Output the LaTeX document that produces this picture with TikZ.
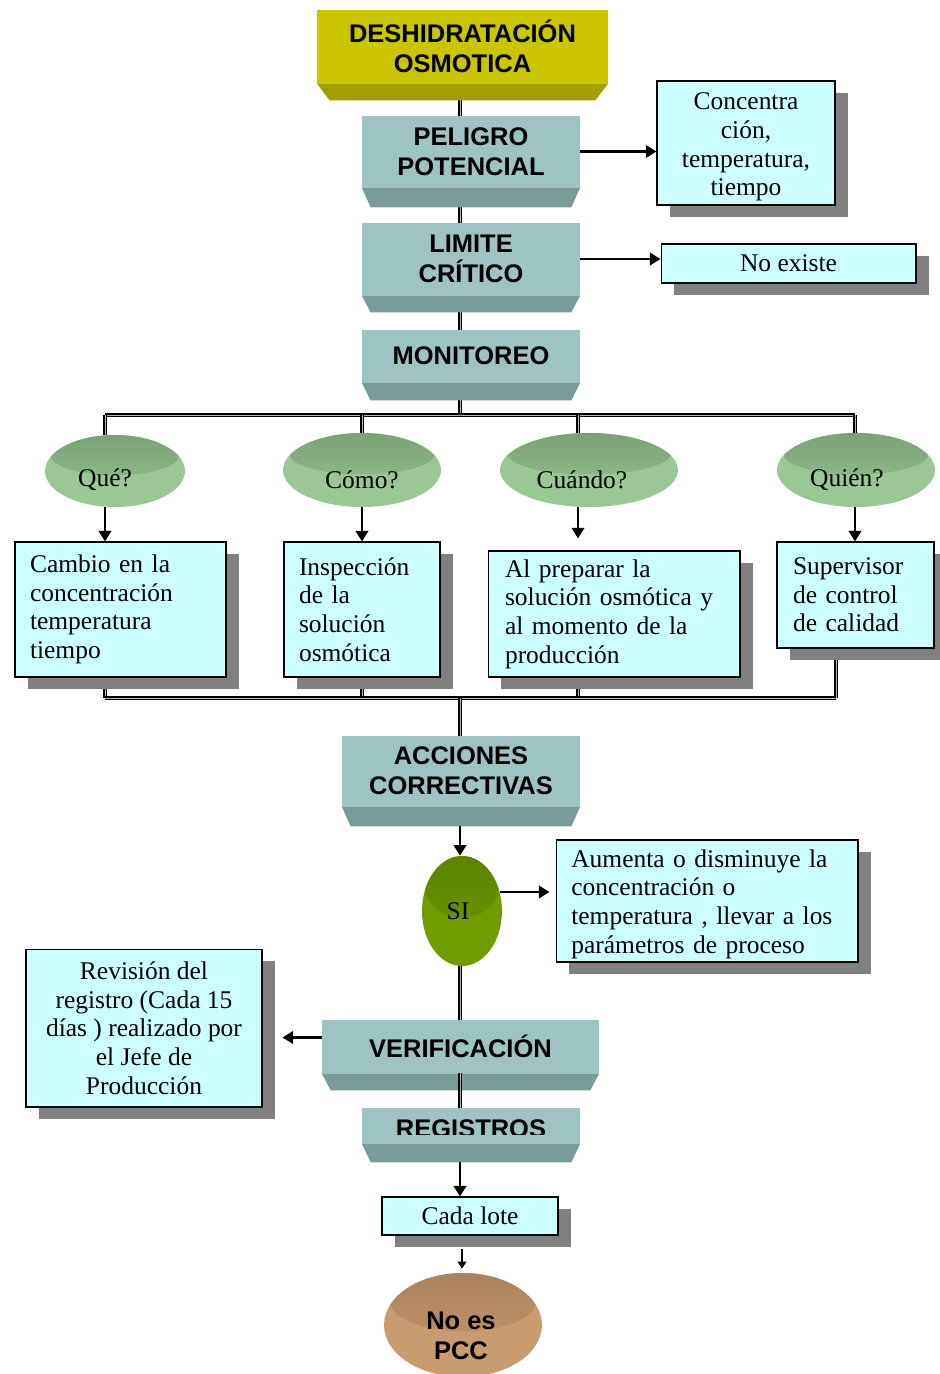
\documentclass[tikz,border=0pt]{standalone}
\usepackage{fontspec}
\setmainfont{Liberation Serif}
\newfontfamily\headfont{Liberation Sans}
\usetikzlibrary{arrows.meta,calc,shapes.geometric,shadows,backgrounds}

\definecolor{olivef}{RGB}{202,197,0}
\definecolor{oliveb}{RGB}{164,159,0}
\definecolor{tealf}{RGB}{157,196,195}
\definecolor{tealb}{RGB}{122,156,153}
\definecolor{cyanbox}{RGB}{204,255,255}
\definecolor{shadowgray}{RGB}{128,128,128}
\definecolor{discl}{RGB}{155,198,150}
\definecolor{discd}{RGB}{122,162,117}
\definecolor{sil}{RGB}{112,156,0}
\definecolor{sid}{RGB}{92,130,0}
\definecolor{pccl}{RGB}{201,156,112}
\definecolor{pccd}{RGB}{172,130,90}

\newcommand\hdsize{\headfont\bfseries\fontsize{14.5}{17}\selectfont}
\newcommand\bdsize{\fontsize{14.5}{16.3}\selectfont}

% slanted lower face under a block: node, depth (px), inset (px), colour
\newcommand\bevelfoot[4]{%
  \fill[#4] (#1.south west) -- (#1.south east) -- ($(#1.south east)+(-#3,#2)$)
    -- ($(#1.south west)+(#3,#2)$) -- cycle;
  \coordinate (#1-b) at ($(#1.south)+(0,#2)$);}

\begin{document}
\begin{tikzpicture}[x=0.02cm, y=-0.02cm,
  face/.style={fill=tealf, inner sep=0pt, align=center, font=\hdsize},
  info/.style={draw=black, line width=0.6pt, fill=cyanbox, inner ysep=0pt,
    general shadow={fill=shadowgray, shadow xshift=0.26cm, shadow yshift=-0.24cm},
    font=\bdsize},
  disc/.style 2 args={ellipse, inner sep=0pt, fill=#1,
    path picture={\shade[top color=#2, bottom color=#1]
      let \p1=(path picture bounding box.south west),
          \p2=(path picture bounding box.north east) in
      ({(\x1+\x2)/2},{\y2-0.28*(\y2-\y1)}) ellipse
      [x radius={0.46*(\x2-\x1)}, y radius={0.28*(\y2-\y1)}];}},
  link/.style={draw=black, line width=0.95pt, double=black!30, double distance=0.5pt},
  arr/.style={draw=black, line width=1.6pt, -{Triangle[length=6pt,width=7pt]}},
  thinarr/.style={draw=black, line width=0.8pt, -{Triangle[length=4pt,width=5pt]}},
  lbl/.style={font=\bdsize, inner sep=0pt}
]
\useasboundingbox (0,0) rectangle (940,1374);

% ---- process blocks ----
\node[face, fill=olivef, minimum width=5.82cm, minimum height=1.46cm] (des) at (462.5,46.5) {DESHIDRATACIÓN\\OSMOTICA};
\bevelfoot{des}{17}{13}{oliveb}
\node[face, minimum width=4.36cm, minimum height=1.42cm] (pel) at (471,151.5) {PELIGRO\\POTENCIAL};
\bevelfoot{pel}{20}{9}{tealb}
\node[face, minimum width=4.36cm, minimum height=1.44cm] (lim) at (471,259) {LIMITE\\CRÍTICO};
\bevelfoot{lim}{17}{9}{tealb}
\node[face, minimum width=4.36cm, minimum height=1.04cm] (mon) at (471,356) {MONITOREO};
\bevelfoot{mon}{18}{9}{tealb}
\node[face, minimum width=4.76cm, minimum height=1.4cm] (acc) at (461,771) {ACCIONES\\CORRECTIVAS};
\bevelfoot{acc}{20}{9}{tealb}
\node[face, minimum width=5.54cm, minimum height=1.06cm] (ver) at (460.5,1046.5) {VERIFICACIÓN};
\bevelfoot{ver}{17}{9}{tealb}
\node[face, minimum width=4.36cm, minimum height=0.7cm] (reg) at (471,1125.5) {};
\begin{scope}
  \clip (362,1100) rectangle (580,1134);
  \node[font=\hdsize, inner sep=0pt] (regt) at (471,1129) {REGISTROS};
\end{scope}
\bevelfoot{reg}{19}{9}{tealb}

% ---- information boxes ----
\node[info, minimum width=3.56cm, minimum height=2.48cm] (conc) at (746,143) {};
\begin{scope}
  \clip (conc.south west) rectangle (conc.north east);
  \node[lbl, align=center] (conct) at (746,147) {Concentra\\ción,\\temperatura,\\tiempo};
\end{scope}
\node[info, minimum width=5.1cm, minimum height=0.78cm] (noex) at (788.5,263.5) {No existe};

\node[info, minimum width=4.22cm, minimum height=2.7cm, text width=3.62cm, inner xsep=0.3cm, align=left]
  (cambio) at (120.5,609.5) {Cambio en la\\concentración\\temperatura\\tiempo};
\node[info, minimum width=3.12cm, minimum height=2.7cm, text width=2.52cm, inner xsep=0.3cm, align=left]
  (insp) at (362,609.5) {Inspección\\de la\\solución\\osmótica};
\node[info, minimum width=5.04cm, minimum height=2.52cm, text width=4.36cm, inner xsep=0.34cm, align=left]
  (prep) at (614,614) {Al preparar la\\solución osmótica y\\al momento de la\\producción};
\node[info, minimum width=3.14cm, minimum height=2.12cm, text width=2.5cm, inner xsep=0.32cm, align=left]
  (sup) at (855.5,595) {Supervisor\\de control\\de calidad};

\node[info, minimum width=6.04cm, minimum height=2.44cm] (aum) at (707,901) {};
\begin{scope}
  \clip (aum.south west) rectangle (aum.north east);
  \node[lbl, align=left, text width=5.44cm, anchor=west] (aumt) at (571,904)
    {Aumenta o disminuye la\\concentración o\\temperatura , llevar a los\\parámetros de proceso};
\end{scope}
\node[info, minimum width=4.72cm, minimum height=3.16cm, align=center] (rev) at (144,1028)
  {Revisión del\\registro (Cada 15\\días ) realizado por\\el Jefe de\\Producción};
\node[info, minimum width=3.52cm, minimum height=0.76cm] (lote) at (470,1216) {Cada lote};

% ---- question discs ----
\node[disc={discl}{discd}, minimum width=2.8cm, minimum height=1.44cm] (que) at (115,471) {};
\node[lbl] (quet) at (105,480) {Qué?};
\node[disc={discl}{discd}, minimum width=3.16cm, minimum height=1.48cm] (como) at (362,470) {};
\node[lbl] (comot) at (362,480) {Cómo?};
\node[disc={discl}{discd}, minimum width=3.56cm, minimum height=1.48cm] (cuando) at (589,470) {};
\node[lbl] (cuandot) at (582,480) {Cuándo?};
\node[disc={discl}{discd}, minimum width=3.16cm, minimum height=1.48cm] (quien) at (856,470) {};
\node[lbl] (quient) at (847,480) {Quién?};

\node[disc={sil}{sid}, minimum width=1.6cm, minimum height=2.2cm] (si) at (462,911) {};
\node[lbl] (sit) at (458,911) {SI};

\node[disc={pccl}{pccd}, minimum width=3.16cm, minimum height=2.08cm] (pcc) at (463,1325) {};
\node[font=\hdsize, align=center, inner sep=0pt] (pcct) at (461,1336) {No es\\PCC};

% ---- connecting lines, behind the shapes ----
\begin{pgfonlayer}{background}
  \fill[white] (0,0) rectangle (940,1374);
  \coordinate (trunk) at (460,0);
  \coordinate (c1) at (105,0);
  \coordinate (c2) at (362,0);
  \coordinate (c3) at (578,0);
  \coordinate (c4) at (855,0);
  \coordinate (c5) at (836,0);
  \coordinate (busT) at (0,415);
  \coordinate (busB) at (0,698);
  \draw[link] (trunk |- des-b) -- (trunk |- pel.north);
  \draw[link] (trunk |- pel-b) -- (trunk |- lim.north);
  \draw[link] (trunk |- lim-b) -- (trunk |- mon.north);
  \draw[link] (trunk |- mon-b) -- (trunk |- busT);
  \draw[link] (c1 |- busT) -- (c4 |- busT);
  \draw[link] (c1 |- busT) -- (c1 |- que.north);
  \draw[link] (c2 |- busT) -- (c2 |- como.north);
  \draw[link] (c3 |- busT) -- (c3 |- cuando.north);
  \draw[link] (c4 |- busT) -- (c4 |- quien.north);
  \draw[link] (c1 |- cambio.south) -- (c1 |- busB);
  \draw[link] (c2 |- insp.south) -- (c2 |- busB);
  \draw[link] (c3 |- prep.south) -- (c3 |- busB);
  \draw[link] (c5 |- sup.south) -- (c5 |- busB);
  \draw[link] (c1 |- busB) -- (c5 |- busB);
  \draw[link] (trunk |- busB) -- (trunk |- acc.north);
  \draw[link] (trunk |- si.south) -- (trunk |- ver.north);
\end{pgfonlayer}

% ---- arrows ----
\draw[arr] (pel.east) -- (pel.east -| conc.west);
\draw[arr] (lim.east) -- (lim.east -| noex.west);
\draw[arr] (c1 |- que.south) -- (c1 |- cambio.north);
\draw[arr] (c2 |- como.south) -- (c2 |- insp.north);
\draw[arr, shorten >=0.24cm] (c3 |- cuando.south) -- (c3 |- prep.north);
\draw[arr] (c4 |- quien.south) -- (c4 |- sup.north);
\draw[arr] (trunk |- acc-b) -- (trunk |- si.north);
\draw[arr] ($(si.east)+(-2,-19)$) -- ($(aum.west)+(-6,-9)$);
\draw[arr] ($(ver.west)+(0,-9)$) -- ($(rev.east)+(20,9.5)$);
\draw[link] (trunk |- ver.south) -- (trunk |- reg.north);
\draw[arr] (trunk |- reg-b) -- (trunk |- lote.north);
\draw[thinarr] ($(trunk |- lote.south)+(2,13)$) -- ($(trunk |- pcc.north)+(2,-4)$);
\end{tikzpicture}
\end{document}
